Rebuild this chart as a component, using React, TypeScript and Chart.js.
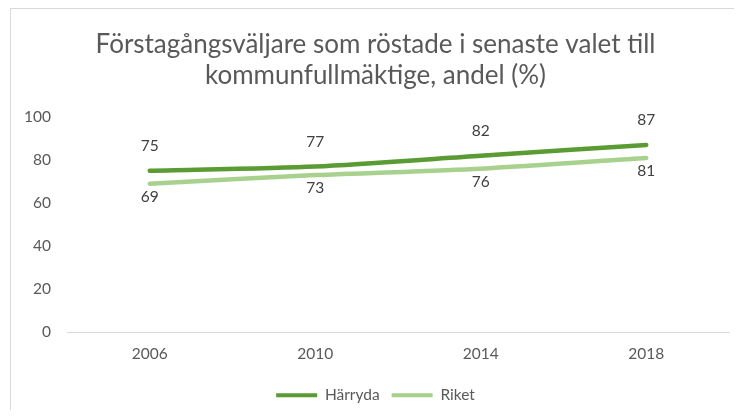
import React, { useEffect, useRef } from "react";
import { Chart, registerables } from "chart.js";

Chart.register(...registerables);

const years = ["2006", "2010", "2014", "2018"];
const harryda = [75, 77, 82, 87];
const riket = [69, 73, 76, 81];
const titleLines = ["Förstagångsväljare som röstade i senaste valet till", "kommunfullmäktige, andel (%)"];

const FONT = "Lato";

const valueLabels = {
  id: "valueLabels",
  afterDatasetsDraw(chart: any) {
    const ctx = chart.ctx;
    ctx.save();
    ctx.font = `15.5px ${FONT}`;
    ctx.fillStyle = "#404040";
    ctx.textAlign = "center";
    ctx.textBaseline = "middle";
    chart.data.datasets.forEach((ds: any, i: number) => {
      const meta = chart.getDatasetMeta(i);
      const off = i === 0 ? -25 : 13;
      meta.data.forEach((pt: any, j: number) => {
        ctx.fillText(String(ds.data[j]), pt.x, pt.y + off);
      });
    });
    ctx.restore();
  },
};

export default function App() {
  const ref = useRef<HTMLCanvasElement>(null);
  useEffect(() => {
    document.documentElement.style.overflow = "hidden";
    const chart = new Chart(ref.current!, {
      type: "line",
      data: {
        labels: years,
        datasets: [
          {
            label: "Härryda",
            data: harryda,
            borderColor: "#5a9b33",
            backgroundColor: "#5a9b33",
            borderWidth: 4.5,
            pointRadius: 0,
            tension: 0.25,
            borderCapStyle: "round",
          },
          {
            label: "Riket",
            data: riket,
            borderColor: "#a9d18e",
            backgroundColor: "#a9d18e",
            borderWidth: 4.5,
            pointRadius: 0,
            tension: 0.25,
            borderCapStyle: "round",
          },
        ],
      },
      options: {
        responsive: false,
        animation: false,
        layout: { padding: { left: 11, right: 13, top: 0, bottom: 5 } },
        plugins: {
          title: {
            display: true,
            text: titleLines,
            color: "#595959",
            font: { family: FONT, size: 26, weight: "normal", lineHeight: 31 / 26 },
            padding: { top: 20.5, bottom: 25.5 },
          },
          legend: {
            position: "bottom",
            labels: {
              color: "#595959",
              font: { family: FONT, size: 15.5 },
              boxWidth: 41,
              boxHeight: 4,
              padding: 12,
              generateLabels: (c: any) =>
                Chart.defaults.plugins.legend.labels
                  .generateLabels(c)
                  .map((l: any) => ({ ...l, lineWidth: 0, strokeStyle: "rgba(0,0,0,0)" })),
            },
          },
          tooltip: { enabled: false },
        },
        scales: {
          x: {
            offset: true,
            grid: { display: false, drawTicks: false, offset: true },
            border: { display: true, color: "#d9d9d9", width: 1 },
            ticks: { color: "#595959", font: { family: FONT, size: 15.5 }, padding: 12.7, maxRotation: 0 },
            afterFit: (s: any) => {
              s.height = 43.25;
            },
          },
          y: {
            min: 0,
            max: 100,
            grid: { display: false, drawTicks: false },
            border: { display: false },
            ticks: { stepSize: 20, color: "#595959", font: { family: FONT, size: 15.5 }, padding: 16 },
            afterFit: (s: any) => {
              s.width = 45;
            },
          },
        },
      },
      plugins: [valueLabels],
    });
    return () => chart.destroy();
  }, []);
  return (
    <div
      style={{
        marginLeft: 2,
        marginBottom: -8,
        width: 732,
        height: 410,
        boxSizing: "border-box",
        borderLeft: "1px solid #d9d9d9",
        borderTop: "1px solid #d9d9d9",
        background: "#fff",
      }}
    >
      <canvas ref={ref} width={731} height={409} style={{ display: "block" }} />
    </div>
  );
}
